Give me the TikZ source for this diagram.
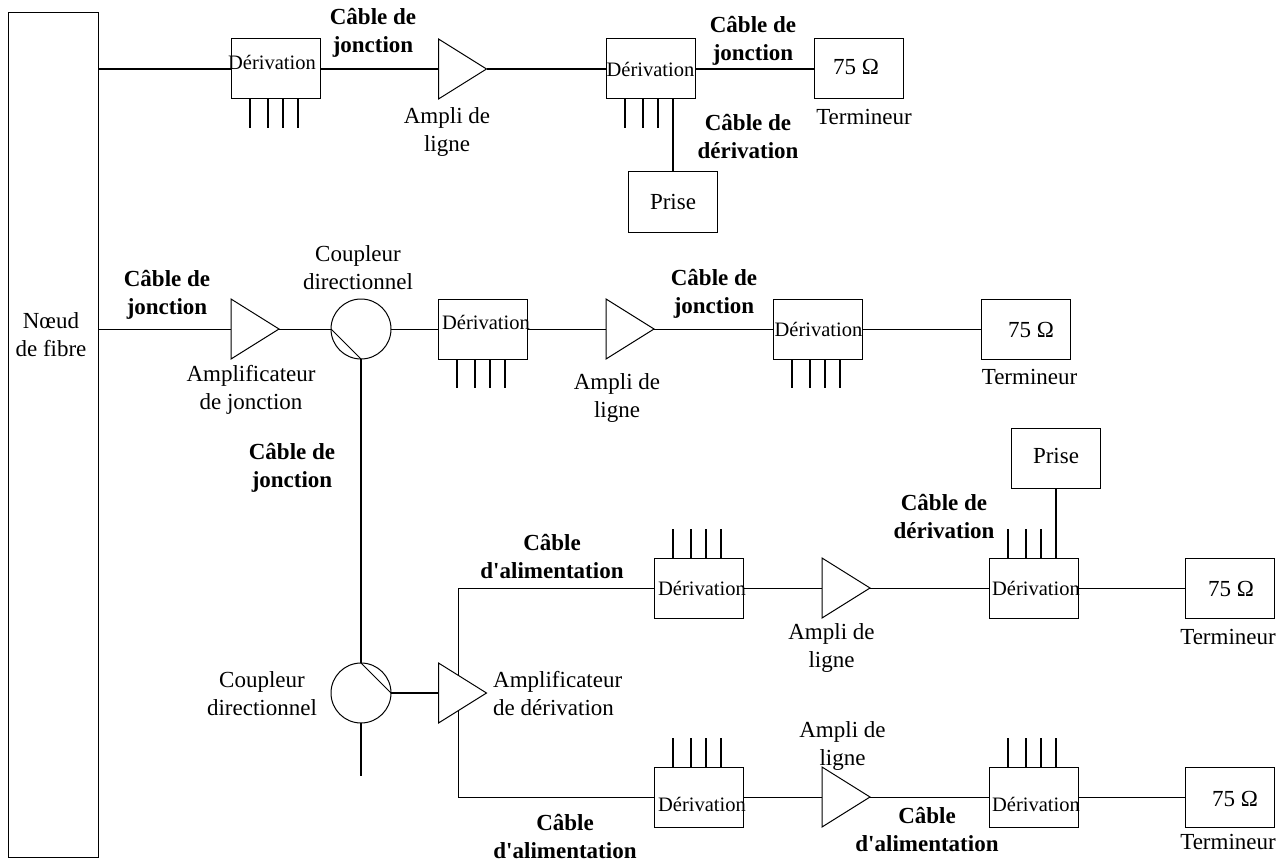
\documentclass[tikz,border=0pt]{standalone}
\usepackage{fontspec}
\setmainfont{Liberation Serif}[Ligatures=TeXOff]
\usetikzlibrary{shapes.geometric,calc}
\tikzset{
 x=1pt,y=-1pt,
 wire/.style={line width=1pt,draw=black},
 heavy/.style={line width=1.6pt,draw=black},
 shapeline/.style={line width=1pt,draw=black,fill=white,inner sep=0pt,outer sep=0pt},
 boxnode/.style={shapeline,rectangle,minimum width=89pt,minimum height=60pt},
 ampnode/.style={shapeline,isosceles triangle,isosceles triangle stretches,minimum width=60pt,minimum height=48pt,anchor=lower side,shape border rotate=0},
 coupnode/.style={shapeline,circle,minimum size=60pt},
 txt/.style={inner sep=0pt,align=center,font=\fontsize{23}{28}\selectfont},
 lab/.style={txt},
 blab/.style={txt,font=\fontsize{23}{28}\selectfont\bfseries},
 dlab/.style={inner sep=0pt,font=\fontsize{20.5}{24}\selectfont},
 leftlab/.style={txt,align=left,anchor=west},
}
\begin{document}
\begin{tikzpicture}
\useasboundingbox (0,0) rectangle (1287,861);
% fibre node
\node[shapeline,rectangle,minimum width=90pt,minimum height=844pt] (fib) at (53,435) {};
\node[lab] (fibt) at (51,335) {Nœud\\de fibre};
\coordinate (fr1) at (98,69);
\coordinate (fr2) at (98,329);
% row 1
\node[boxnode] (d1) at (275.5,69) {};
\node[ampnode] (a1) at (438.5,69) {};
\node[boxnode] (d2) at (650.5,69) {};
\node[boxnode] (t1) at (858.5,69) {};
\node[boxnode] (p1) at (672.5,202) {};
% row 2
\node[ampnode] (a2) at (231,329) {};
\node[coupnode] (c1) at (361,329) {};
\node[boxnode] (d3) at (482.5,329) {};
\node[ampnode] (a4) at (606,329) {};
\node[boxnode] (d4) at (817.5,329) {};
\node[boxnode] (t2) at (1026,329) {};
% coupler 2
\node[coupnode] (c2) at (361,693) {};
% rows 3, 4
\node[boxnode] (d5) at (698.5,588) {};
\node[ampnode] (a6) at (822,588) {};
\node[boxnode] (d6) at (1033.5,588) {};
\node[boxnode] (t3) at (1229.5,588) {};
\node[boxnode] (p2) at (1055.5,458) {};
\node[boxnode] (d7) at (698.5,797) {};
\node[ampnode] (a7) at (822,797) {};
\node[boxnode] (d8) at (1033.5,797) {};
\node[boxnode] (t4) at (1229.5,797) {};
\coordinate (busT) at (458,588);
\coordinate (busB) at (458,797);
% bus behind the branch amplifier
\draw[wire] (d5.west) -- (busT) -- (busB) -- (d7.west);
\node[ampnode] (a3) at (438.5,693) {};
% connectors
\draw[heavy] (fr1) -- (d1.west);
\draw[heavy] (d1.east) -- (a1.lower side);
\draw[heavy] (a1.apex) -- (d2.west);
\draw[heavy] (d2.east) -- (t1.west);
\draw[wire] (fr2) -- (a2.lower side);
\draw[wire] (a2.apex) -- (c1.west);
\draw[wire] (c1.east) -- (d3.west);
\draw[wire] (d3.east) -- (a4.lower side);
\draw[wire] (a4.apex) -- (d4.west);
\draw[wire] (d4.east) -- (t2.west);
\draw[wire] (c1.west) -- (c1.south);
\draw[heavy] (c1.south) -- (c2.north);
\draw[wire] (c2.north) -- (c2.east);
\draw[heavy] (c2.east) -- (a3.lower side);
\draw[heavy] (c2.south) -- ++(0,53);
\draw[wire] (d5.east) -- (a6.lower side);
\draw[wire] (a6.apex) -- (d6.west);
\draw[wire] (d6.east) -- (t3.west);
\draw[wire] (d7.east) -- (a7.lower side);
\draw[wire] (a7.apex) -- (d8.west);
\draw[wire] (d8.east) -- (t4.west);
% tap stubs
\foreach \n in {d1,d3,d4}
  \foreach \dx in {19,37,52,67}
    \draw[heavy] ($(\n.south west)+(\dx,0)$) -- ++(0,29);
\foreach \dx in {19,37,52}
  \draw[heavy] ($(d2.south west)+(\dx,0)$) -- ++(0,29);
\draw[heavy] ($(d2.south west)+(67,0)$) -- (p1.north -| {$(d2.south west)+(67,0)$});
\foreach \n in {d5,d7,d8}
  \foreach \dx in {19,37,52,67}
    \draw[heavy] ($(\n.north west)+(\dx,0)$) -- ++(0,-29);
\foreach \dx in {19,37,52}
  \draw[heavy] ($(d6.north west)+(\dx,0)$) -- ++(0,-29);
\draw[heavy] ($(d6.north west)+(67,0)$) -- (p2.south -| {$(d6.north west)+(67,0)$});
% box texts
\node[dlab] (td1) at (272,62) {Dérivation};
\node[dlab] (td2) at (650.5,69) {Dérivation};
\node[dlab] (td3) at (486,322) {Dérivation};
\node[dlab] (td4) at (818.5,329) {Dérivation};
\node[dlab] (td5) at (702,588) {Dérivation};
\node[dlab] (td6) at (1036,588) {Dérivation};
\node[dlab] (td7) at (702,804) {Dérivation};
\node[dlab] (td8) at (1036,804) {Dérivation};
\node[lab] (tt1) at (856,67) {75 Ω};
\node[lab] (tt2) at (1031,330) {75 Ω};
\node[lab] (tt3) at (1231,589) {75 Ω};
\node[lab] (tt4) at (1235,799) {75 Ω};
\node[lab] (tp1) at (673,202) {Prise};
\node[lab] (tp2) at (1056,456) {Prise};
% labels
\node[blab] (l1) at (373,33) {Câble de\\jonction};
\node[lab] (l2) at (447,132.5) {Ampli de\\ligne};
\node[blab] (l3) at (753,40.5) {Câble de\\jonction};
\node[blab] (l4) at (748,136.5) {Câble de\\dérivation};
\node[lab] (l5) at (864,117) {Termineur};
\node[blab] (l6) at (167,294.5) {Câble de\\jonction};
\node[lab] (l7) at (358,268) {Coupleur\\directionnel};
\node[lab] (l8) at (251,390) {Amplificateur\\de jonction};
\node[lab] (l9) at (617,397.5) {Ampli de\\ligne};
\node[blab] (l10) at (714,294) {Câble de\\jonction};
\node[lab] (l11) at (1029.5,377) {Termineur};
\node[blab] (l12) at (292,468) {Câble de\\jonction};
\node[blab] (l13) at (552,556.5) {Câble\\d'alimentation};
\node[blab] (l14) at (944,516) {Câble de\\dérivation};
\node[lab] (l15) at (831.5,647.5) {Ampli de\\ligne};
\node[lab] (l16) at (1228,637) {Termineur};
\node[lab] (l17) at (262,693.5) {Coupleur\\directionnel};
\node[leftlab] (l18) at (493,693.5) {Amplificateur\\de dérivation};
\node[lab] (l19) at (842.5,745.5) {Ampli de\\ligne};
\node[blab] (l20) at (565,836.5) {Câble\\d'alimentation};
\node[blab] (l21) at (927,829.5) {Câble\\d'alimentation};
\node[lab] (l22) at (1228,842) {Termineur};
\end{tikzpicture}
\end{document}
